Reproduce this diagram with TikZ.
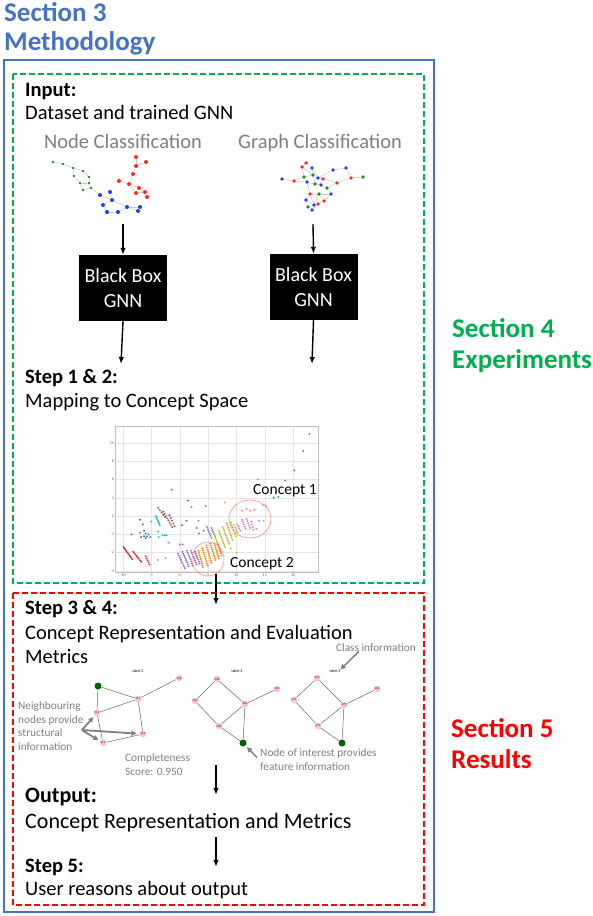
\documentclass[tikz,border=0pt]{standalone}
\usepackage{fontspec}
\setmainfont{Carlito}
\usepackage{xcolor}
\usetikzlibrary{arrows.meta,positioning,backgrounds}
\definecolor{secblue}{HTML}{4472C4}
\definecolor{secgreen}{HTML}{00B050}
\definecolor{secred}{HTML}{FF0000}
\definecolor{notegray}{HTML}{7F7F7F}
\definecolor{gred}{HTML}{FF2A1A}
\definecolor{gblue}{HTML}{1A3CFF}
\definecolor{ggreen}{HTML}{1A8C1A}
\definecolor{tabblue}{HTML}{1F77B4}
\definecolor{taborange}{HTML}{FF7F0E}
\definecolor{tabgreen}{HTML}{2CA02C}
\definecolor{tabred}{HTML}{D62728}
\definecolor{tabpurple}{HTML}{9467BD}
\definecolor{tabbrown}{HTML}{8C564B}
\definecolor{tabpink}{HTML}{E377C2}
\definecolor{tabgray}{HTML}{7F7F7F}
\definecolor{tabolive}{HTML}{BCBD22}
\definecolor{tabcyan}{HTML}{17BECF}
\definecolor{nodepink}{HTML}{FFC0CB}
\definecolor{interest}{HTML}{006400}
\newcommand{\dotrow}[6]{%
  \foreach \i in {0,...,#6}
    \fill[#1] ({(#2)+((#4)-(#2))*\i/#6},{(#3)+((#5)-(#3))*\i/#6}) circle (1.05pt);}
\tikzset{
  sectitle/.style={anchor=base west,inner sep=0pt,
    font=\fontsize{27}{30}\selectfont\bfseries},
  steplabel/.style={anchor=base west,inner sep=0pt,
    font=\fontsize{20.5}{24}\selectfont\bfseries},
  steptext/.style={anchor=base west,inner sep=0pt,
    font=\fontsize{20.5}{24}\selectfont},
  flow/.style={-{Latex[length=7pt,width=5.5pt]},line width=1.4pt}}

\begin{document}
\begin{tikzpicture}[x=1pt,y=-1pt,
  blackbox/.style={fill=black,text=white,align=center,inner sep=0pt,
    minimum width=88pt,minimum height=66pt,font=\fontsize{20}{25}\selectfont},
  tasklabel/.style={anchor=base,inner sep=0pt,text=notegray,
    font=\fontsize{20.5}{24}\selectfont},
  note/.style={anchor=base west,inner sep=0pt,align=left,text=notegray,
    font=\fontsize{11.3}{13.5}\selectfont},
  dot/.style={circle,inner sep=0pt,minimum size=#1},
  graphedge/.style={draw=black!22,line width=0.5pt},
  gridline/.style={draw=black!10,line width=0.4pt},
  ticklabel/.style={inner sep=1pt,text=black!60,font=\fontsize{4}{4}\selectfont},
  conceptring/.style={draw=red!45,line width=0.6pt},
  conceptlabel/.style={anchor=base west,inner sep=0pt,
    font=\fontsize{15.5}{18}\selectfont},
  member/.style={circle,fill=nodepink,inner sep=0pt,minimum size=6.5pt,
    text=red!40!black,font=\fontsize{3}{3}\selectfont},
  target/.style={circle,fill=interest,inner sep=0pt,minimum size=7pt},
  smalledge/.style={draw=black!60,line width=0.5pt},
  tinylabel/.style={inner sep=0pt,font=\fontsize{4}{4}\selectfont},
  pointer/.style={-{Triangle[length=5pt,width=5pt]},line width=1.8pt,
    draw=notegray},
  areabox/.style={line width=1.5pt,dash pattern=on 6pt off 3pt}]

  \useasboundingbox (0,0) rectangle (592,916);

  % frames
  \draw[secblue,line width=1.5pt] (4,60) rectangle (434,912);
  \draw[areabox,secgreen] (13,74) rectangle (424,583);
  \draw[areabox,secred] (13,593) rectangle (424,905);

  \node[sectitle,text=secblue] (sec3) at (4,21) {Section 3};
  \node[sectitle,text=secblue] (meth) at (4,50) {Methodology};
  \node[sectitle,text=secgreen] (sec4) at (452,337) {Section 4};
  \node[sectitle,text=secgreen] (exper) at (452,368) {Experiments};
  \node[sectitle,text=secred] (sec5) at (451,737) {Section 5};
  \node[sectitle,text=secred] (resul) at (451,768) {Results};

  % input
  \node[steplabel] (inlbl) at (25,96) {Input:};
  \node[steptext] (intxt) at (25,119) {Dataset and trained GNN};
  \node[tasklabel] (nctask) at (123,148) {Node Classification};
  \node[tasklabel] (gctask) at (320,148) {Graph Classification};

  % node classification graph
  \foreach \n/\px/\py in {g1/53/162,g2/63/164,g3/73/168,g4/83/171,g5/74/176,
      g6/89/177,g7/80/183,g8/89/183,g9/83/190,g10/91/188}
    \node[dot=2.8pt,fill=ggreen] (nc\n) at (\px,\py) {};
  \foreach \n/\px/\py in {r1/136/157,r2/146/162,r3/136/166,r4/133/174,
      r5/119/181,r6/129/184,r7/139/188,r8/136/193,r9/145/192,r10/147/197}
    \node[dot=4pt,fill=gred] (nc\n) at (\px,\py) {};
  \foreach \n/\px/\py in {b1/100/195,b2/110/192,b3/112/200,b4/103/205,
      b5/107/212,b6/118/212,b7/127/207,b8/140/207,b9/138/211}
    \node[dot=4pt,fill=gblue] (nc\n) at (\px,\py) {};
  \begin{scope}[on background layer]
  \foreach \a/\b in {g1/g2,g2/g3,g3/g4,g3/g5,g4/g6,g5/g7,g6/g8,g7/g8,g7/g9,
      g9/g10,g8/g10,r1/r3,r2/r3,r3/r4,r4/r6,r5/r6,r6/r7,r6/r8,r7/r9,r8/r9,
      r9/r10,r7/r10,b1/b3,b2/b3,b3/b4,b3/b7,b4/b5,b5/b6,b6/b7,b7/b8,b7/b9,
      b8/b9,g10/b1}
    \draw[graphedge] (nc\a) -- (nc\b);
  \end{scope}

  % graph classification graph
  \foreach \n/\px/\py/\c in {1/282/179/gblue,2/294/181/gred,3/306/163/gred,
      4/302/167/gred,5/304/177/ggreen,6/312/168/gblue,7/313/175/ggreen,
      8/318/178/gblue,9/323/179/gred,10/307/182/gblue,11/315/184/ggreen,
      12/321/185/gblue,13/327/188/ggreen,14/333/170/gblue,15/346/168/gblue,
      16/351/178/gred,17/363/177/ggreen,18/337/183/gred,19/310/194/gred,
      20/319/194/ggreen,21/331/194/gblue,22/324/201/gred,23/318/204/gred,
      24/306/200/gblue,25/308/207/ggreen,26/312/210/gblue,27/314/205/gblue}
    \node[dot=3.6pt,fill=\c] (gc\n) at (\px,\py) {};
  \begin{scope}[on background layer]
  \foreach \a/\b in {1/2,2/5,2/10,3/4,3/6,4/5,6/7,7/8,8/9,8/14,14/15,15/16,
      16/17,16/18,18/13,13/12,12/11,11/10,5/10,10/19,19/20,20/21,21/13,20/22,
      22/23,23/26,26/25,25/24,24/19,27/20,27/23,7/11,5/7,9/12,24/27,19/27,
      22/21,4/7,9/18,6/8}
    \draw[graphedge] (gc\a) -- (gc\b);
  \end{scope}

  % black boxes
  \node[blackbox] (bbnc) at (123,288) {Black Box\\GNN};
  \node[blackbox] (bbgc) at (313.5,287) {Black Box\\GNN};
  \coordinate (ncout) at (123,224);
  \coordinate (gcout) at (313,224);
  \coordinate (ncin) at (121,364);
  \coordinate (gcin) at (312,364);
  \draw[flow] (ncout) -- (bbnc.north);
  \draw[flow] (gcout) -- (bbgc.north);
  \draw[flow] (bbnc.south) -- (ncin);
  \draw[flow] (bbgc.south) -- (gcin);

  % step 1 & 2
  \node[steplabel] (s12lbl) at (25,383) {Step 1 \& 2:};
  \node[steptext] (s12txt) at (25,407) {Mapping to Concept Space};

  % concept space plot
  \begin{scope}[shift={(179.7,534.4)},x=5.67pt,y=9.14pt]
    \foreach \gx in {-10,-5,...,20}
      \draw[gridline] (\gx,-4.2) -- (\gx,11.8);
    \foreach \gy in {-4,-2,...,10}
      \draw[gridline] (-11.4,\gy) -- (24.4,\gy);
    \draw[black!25,line width=0.6pt] (-11.4,-4.2) rectangle (24.4,11.8);
    \foreach \gx in {-10,-5,...,20}
      \node[ticklabel,below] (xt\gx) at (\gx,-4.2) {\gx};
    \foreach \gy in {-4,-2,...,10}
      \node[ticklabel,left] (yt\gy) at (-11.4,\gy) {\gy};
    % clusters
    \dotrow{tabred}{-9.9}{-1.4}{-8.4}{-2.7}{9}
    \dotrow{tabred}{-8.2}{-1.9}{-6.8}{-3.0}{7}
    \dotrow{tabred}{-6.0}{-2.4}{-5.3}{-3.3}{4}
    \foreach \p in {(-8.5,0),(-7.0,1.6),(-6.5,1.1),(-6.3,0.4),(-7.0,0.2),
        (-6.8,-0.3),(-6.0,0.1),(-5.8,-0.2),(-5.5,0),(-5.2,-0.3),(-6.3,-0.2),
        (-6.0,-0.4)}
      \fill[tabblue] \p circle (1.05pt);
    \dotrow{tabcyan}{-4.2}{2.0}{-3.5}{1.0}{6}
    \foreach \p in {(-5.0,1.4),(-3.8,0.3),(-3.0,-0.1),(-2.6,-0.1),(-2.3,-0.1),
        (-2.0,-0.9),(-3.9,-2.8),(-2.5,-2.6),(-3.7,-0.3)}
      \fill[tabcyan] \p circle (1.05pt);
    \dotrow{tabbrown}{-3.8}{2.9}{-2.6}{1.9}{4}
    \dotrow{tabbrown}{-2.9}{2.5}{-1.3}{0.8}{7}
    \dotrow{tabbrown}{-1.8}{2.1}{-0.9}{0.9}{4}
    \foreach \p in {(-1.4,4.9),(0.4,1.0),(1.5,3.7),(1.2,1.5)}
      \fill[tabbrown] \p circle (1.05pt);
    \dotrow{tabgray}{4.8}{0.8}{5.6}{-0.4}{5}
    \dotrow{tabgray}{5.6}{0.7}{6.2}{-0.2}{4}
    \foreach \p in {(2.1,3.0),(4.6,3.1),(3.3,1.5),(3.0,0.7),(4.2,0.4),(3.4,0.1)}
      \fill[tabgray] \p circle (1.05pt);
    \dotrow{tabolive}{6.2}{-0.2}{7.2}{-1.9}{8}
    \dotrow{tabolive}{6.9}{0.4}{8.0}{-1.4}{8}
    \dotrow{tabolive}{7.6}{0.8}{8.7}{-1.0}{8}
    \dotrow{tabolive}{8.3}{1.2}{9.3}{-0.6}{8}
    \dotrow{tabolive}{9.0}{1.3}{9.9}{-0.2}{6}
    \dotrow{tabolive}{9.6}{1.0}{10.2}{0.2}{3}
    \foreach \p in {(7.9,3.5),(10.1,-2.0),(9.0,-1.5)}
      \fill[tabolive] \p circle (1.05pt);
    \dotrow{tabpink}{10.2}{1.1}{10.7}{0.4}{3}
    \dotrow{tabpink}{11.0}{1.6}{11.6}{0.6}{4}
    \dotrow{tabpink}{11.8}{1.7}{12.4}{0.7}{4}
    \dotrow{tabpink}{12.6}{1.4}{13.0}{0.5}{3}
    \foreach \p in {(11.0,2.6),(11.8,2.8),(12.4,2.6),(13.2,2.7),(14.6,3.2),
        (15.2,3.1),(14.0,1.5),(14.8,1.5),(13.5,0.6),(13.8,6.0)}
      \fill[tabpink] \p circle (1.05pt);
    \foreach \p in {(0.0,-1.1),(0.5,-1.1)}
      \fill[tabpurple] \p circle (1.05pt);
    \dotrow{tabpurple}{-0.3}{-2.1}{0.9}{-3.7}{7}
    \dotrow{tabpurple}{0.5}{-1.9}{1.6}{-3.5}{7}
    \dotrow{tabpurple}{1.3}{-1.8}{2.3}{-3.4}{7}
    \dotrow{tabpurple}{2.0}{-1.8}{3.0}{-3.3}{7}
    \dotrow{tabpurple}{2.7}{-1.9}{3.5}{-3.2}{6}
    \dotrow{taborange}{3.3}{-1.8}{4.1}{-3.6}{8}
    \dotrow{taborange}{4.0}{-1.5}{4.9}{-3.4}{8}
    \dotrow{taborange}{4.7}{-1.2}{5.6}{-3.1}{8}
    \dotrow{taborange}{5.4}{-1.0}{6.3}{-2.8}{8}
    \dotrow{taborange}{6.1}{-1.0}{6.9}{-2.6}{7}
    \dotrow{taborange}{6.8}{-1.1}{7.4}{-2.3}{5}
    \foreach \p in {(16.6,4.0),(17.4,4.1),(18.6,5.9),(20.2,7.0),(21.8,9.1),
        (22.9,11.0)}
      \fill[tabgreen] \p circle (1.05pt);
  \end{scope}
  \draw[conceptring] (250,519) ellipse (21pt and 19pt);
  \draw[conceptring] (208,559) ellipse (16pt and 17pt);
  \node[conceptlabel] (c1lbl) at (253,494) {Concept 1};
  \node[conceptlabel] (c2lbl) at (230,567) {Concept 2};

  \coordinate (plotout) at (216,574);
  \coordinate (s34in) at (216,605);
  \draw[flow] (plotout) -- (s34in);

  % step 3 & 4
  \node[steplabel] (s34lbl) at (25,614) {Step 3 \& 4:};
  \node[steptext] (s34txt) at (25,639) {Concept Representation and Evaluation};
  \node[steptext] (s34more) at (25,663) {Metrics};

  % concept representations
  \node[tinylabel] (lbla) at (138,671) {label 3};
  \node[target] (ga0) at (98,686) {};
  \node[member] (ga1) at (179,678) {126};
  \node[member] (ga2) at (138,699) {517};
  \node[member] (ga3) at (97,713) {511};
  \node[member] (ga4) at (143,734) {513};
  \node[member] (ga5) at (103,743) {512};

  \node[tinylabel] (lblb) at (237,671) {label 3};
  \node[member] (gb1) at (217,679) {508};
  \node[member] (gb2) at (195,701) {507};
  \node[member] (gb3) at (245,704) {503};
  \node[member] (gb4) at (277,689) {223};
  \node[member] (gb5) at (219,726) {506};
  \node[target] (gb0) at (243,743) {};

  \node[tinylabel] (lblc) at (335,671) {label 3};
  \node[member] (gc1x) at (317,678) {473};
  \node[member] (gc2x) at (294,700) {472};
  \node[member] (gc3x) at (344,705) {470};
  \node[member] (gc4x) at (377,689) {302};
  \node[member] (gc5x) at (318,726) {471};
  \node[target] (gc0x) at (342,743) {};

  \begin{scope}[on background layer]
  \foreach \a/\b in {0/2,0/3,1/2,2/3,2/4,3/5,5/4}
    \draw[smalledge] (ga\a) -- (ga\b);
  \foreach \a/\b in {1/2,1/3,2/5,3/4,3/5,3/0,5/0}
    \draw[smalledge] (gb\a) -- (gb\b);
  \foreach \a/\b in {1/2,1/3,2/5,3/4,3/5,3/0,5/0}
    \draw[smalledge] (gc\a x) -- (gc\b x);
  \end{scope}

  % notes (base = last line)
  \node[note] (neigh) at (18,750)
    {Neighbouring\\nodes provide\\structural\\information};
  \coordinate (nbsrc) at (82,730);
  \draw[pointer,shorten >=2pt] (nbsrc) -- (ga3);
  \draw[pointer,shorten >=3pt] (nbsrc) -- (ga4);
  \draw[pointer,shorten >=2pt] (nbsrc) -- (ga5);

  \node[note] (compl) at (125,775) {Completeness\\Score: 0.950};
  \node[note] (nodeint) at (260,770)
    {Node of interest provides\\feature information};
  \draw[pointer,line width=1.5pt,shorten >=2pt]
    ([xshift=-3pt,yshift=-9pt]nodeint.north west) -- (gb0);
  \node[note] (classinfo) at (336,651) {Class information};
  \draw[pointer,line width=1.5pt]
    ([xshift=-17pt]classinfo.south) -- (lblc.north east);

  \coordinate (s34out) at (216,765);
  \coordinate (outin) at (216,795);
  \draw[flow] (s34out) -- (outin);

  % output and step 5
  \node[steplabel,font=\fontsize{22}{26}\selectfont\bfseries] (outlbl)
    at (25,802) {Output:};
  \node[steptext,font=\fontsize{22}{26}\selectfont] (outtxt)
    at (25,828) {Concept Representation and Metrics};
  \coordinate (outout) at (216,837);
  \coordinate (s5in) at (216,867);
  \draw[flow] (outout) -- (s5in);
  \node[steplabel] (s5lbl) at (25,872) {Step 5:};
  \node[steptext] (s5txt) at (25,895) {User reasons about output};
\end{tikzpicture}
\end{document}
